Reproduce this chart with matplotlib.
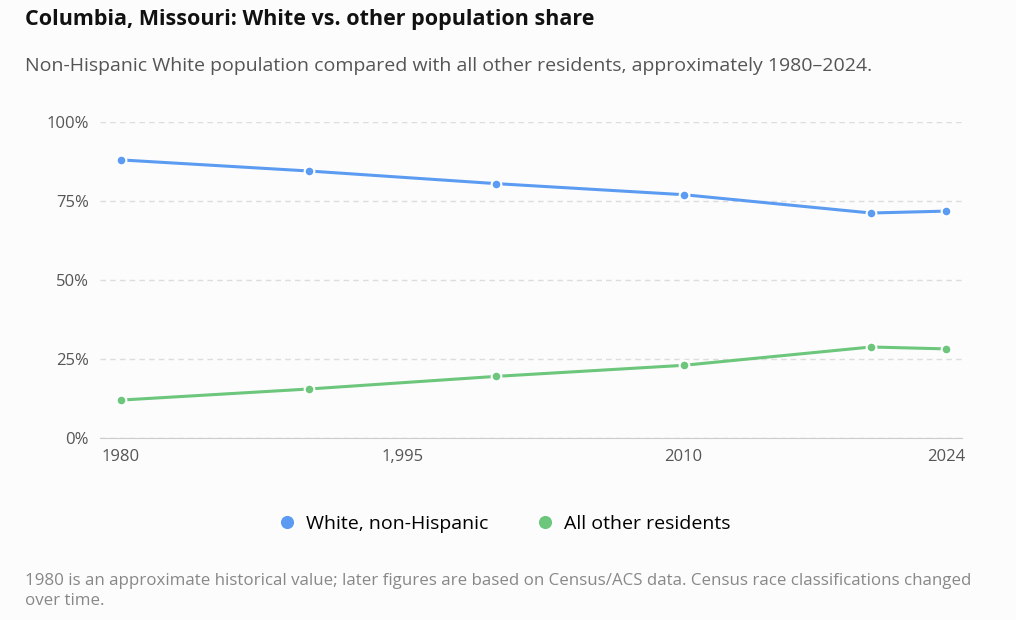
import matplotlib
matplotlib.use("Agg")
import matplotlib.pyplot as plt

years = [1980, 1990, 2000, 2010, 2020, 2024]
white = [88.0, 84.5, 80.5, 77.0, 71.2, 71.8]
other = [12.0, 15.5, 19.5, 23.0, 28.8, 28.2]
xticks = [1980, 1995, 2010, 2024]
xticklabels = ["1980", "1,995", "2010", "2024"]
yticks = [0, 25, 50, 75, 100]
yticklabels = ["0%", "25%", "50%", "75%", "100%"]

plt.rcParams['font.family'] = ['Open Sans', 'DejaVu Sans']
bg = "#fcfcfc"
fig = plt.figure(figsize=(10.16, 6.2), dpi=100, facecolor=bg)
ax = fig.add_axes([100/1016, 1-438/620, 862/1016, 316/620], facecolor=bg)

blue, green = "#5b9cf2", "#6cc67c"
ax.plot(years, white, color=blue, lw=2.2, marker="o", ms=7, mec="white", mew=1.5, label="White, non-Hispanic", zorder=3)
ax.plot(years, other, color=green, lw=2.2, marker="o", ms=7, mec="white", mew=1.5, label="All other residents", zorder=3)

ax.set_xlim(1980 - 21/18.75, 2024 + 16/18.75)
ax.set_ylim(0, 100)
ax.set_xticks(xticks)
ax.set_xticklabels(xticklabels)
ax.set_yticks(yticks)
ax.set_yticklabels(yticklabels)
ax.tick_params(colors="#555555", labelsize=12, length=0, pad=8)
for s in ["top", "right", "left"]:
    ax.spines[s].set_visible(False)
ax.spines["bottom"].set_color("#cccccc")
ax.grid(axis="y", color="#dddddd", ls=(0, (4, 3)), lw=1)
ax.set_axisbelow(True)

fig.text(25/1016, 1-20/620, "Columbia, Missouri: White vs. other population share", fontsize=15.5, fontweight="bold", color="#111111", va="center")
fig.text(25/1016, 1-66/620, "Non-Hispanic White population compared with all other residents, approximately 1980–2024.", fontsize=14, color="#555555", va="center")
leg = fig.legend(loc="center", bbox_to_anchor=(505/1016, 1-524/620), ncol=2, frameon=False, fontsize=14,
                 handlelength=0.8, handletextpad=0.6, columnspacing=2.5)
for h in leg.legend_handles:
    h.set_linestyle("none"); h.set_markersize(11)
fig.text(25/1016, 1-591/620, "1980 is an approximate historical value; later figures are based on Census/ACS data. Census race classifications changed\nover time.",
         fontsize=12.2, color="#888888", va="center", linespacing=1.4)
fig.savefig("out.png", dpi=100, facecolor=bg)
